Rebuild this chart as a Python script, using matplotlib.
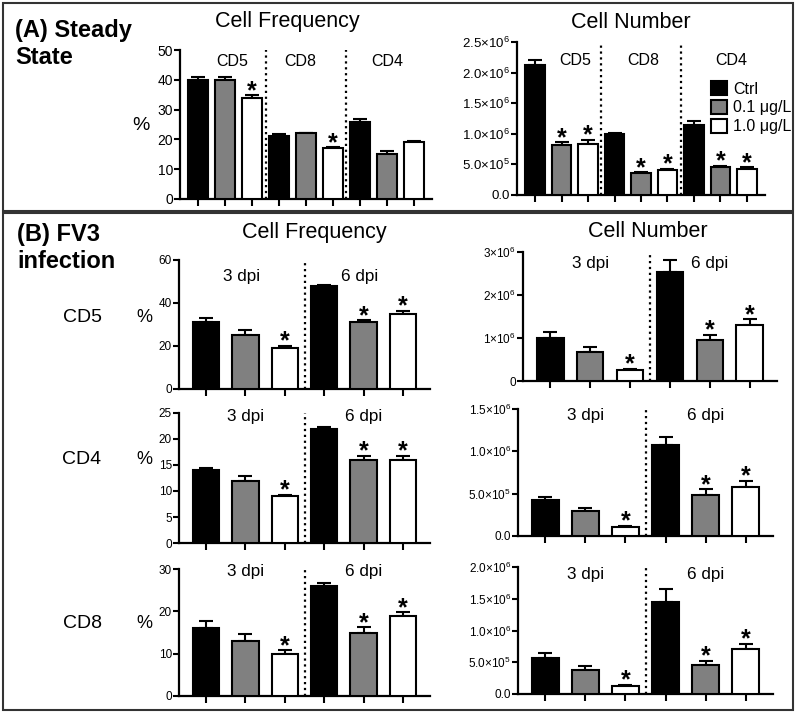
import numpy as np
import matplotlib.pyplot as plt
from matplotlib.patches import Rectangle, Patch

plt.rcParams['font.family'] = 'Liberation Sans'
plt.rcParams['mathtext.fontset'] = 'custom'
plt.rcParams['mathtext.rm'] = 'Liberation Sans'

conds = ['Ctrl', '0.1 μg/L', '1.0 μg/L']
colors = ['black', '#808080', 'white']

# (A) steady state, groups CD5 / CD8 / CD4
groups_a = ['CD5', 'CD8', 'CD4']
freq_a = [[40, 40, 34], [21, 22, 17], [26, 15, 19]]
freq_a_err = [[0.8, 0.8, 0.8], [0.7, 0.3, 0.3], [0.8, 1.2, 0.6]]
freq_a_sig = [[0, 0, 1], [0, 0, 1], [0, 0, 0]]
num_a = [[2.13e6, 0.82e6, 0.83e6], [1.0e6, 0.36e6, 0.41e6], [1.15e6, 0.46e6, 0.42e6]]
num_a_err = [[0.07e6, 0.04e6, 0.07e6], [0.02e6, 0.01e6, 0.02e6], [0.06e6, 0.02e6, 0.03e6]]
num_a_sig = [[0, 1, 1], [0, 1, 1], [0, 1, 1]]

# (B) FV3 infection, 3 dpi / 6 dpi
days = ['3 dpi', '6 dpi']
sig_b = [[0, 0, 1], [0, 1, 1]]
cd5_freq = [[31, 25, 19], [48, 31, 35]]
cd5_freq_err = [[2, 2.5, 1], [0.3, 1, 1.5]]
cd5_num = [[1.0e6, 0.68e6, 0.25e6], [2.53e6, 0.95e6, 1.3e6]]
cd5_num_err = [[0.13e6, 0.1e6, 0.03e6], [0.28e6, 0.12e6, 0.14e6]]
cd4_freq = [[14, 12, 9], [22, 16, 16]]
cd4_freq_err = [[0.4, 0.8, 0.3], [0.3, 0.8, 0.8]]
cd4_num = [[0.42e6, 0.29e6, 0.11e6], [1.08e6, 0.49e6, 0.58e6]]
cd4_num_err = [[0.04e6, 0.04e6, 0.01e6], [0.09e6, 0.06e6, 0.07e6]]
cd8_freq = [[16, 13, 10], [26, 15, 19]]
cd8_freq_err = [[1.6, 1.6, 0.8], [0.8, 1.2, 0.8]]
cd8_num = [[0.57e6, 0.38e6, 0.13e6], [1.45e6, 0.46e6, 0.71e6]]
cd8_num_err = [[0.08e6, 0.06e6, 0.015e6], [0.21e6, 0.06e6, 0.08e6]]

W, H = 800, 714
fig = plt.figure(figsize=(W/100, H/100), dpi=100)


def add_ax(x0, x1, ytop, ybot):
    return fig.add_axes([x0/W, 1-ybot/H, (x1-x0)/W, (ybot-ytop)/H])


def ftext(x, y, s, **kw):
    kw.setdefault('va', 'center')
    fig.text(x/W, 1-y/H, s, **kw)


def bar_panel(ax, means, errs, sigs, labels, width, lab_y, lab_size, ylim, yticks, ylabels,
              tick_size, lab_dx=(0, 0, 0)):
    n = len(means[0])
    for g, (m, e, s) in enumerate(zip(means, errs, sigs)):
        x = g*n + np.arange(n)
        ax.bar(x, m, width=width, color=colors, edgecolor='black', linewidth=1.5, zorder=3)
        ax.errorbar(x, m, yerr=[np.zeros(n), e], fmt='none', ecolor='black',
                    elinewidth=1.5, capsize=5, capthick=1.5, zorder=2)
        for xi, mi, ei, si in zip(x, m, e, s):
            if si:
                ax.annotate('*', (xi, mi+ei), xytext=(0, -2), textcoords='offset points',
                            ha='center', va='baseline', fontsize=18, fontweight='bold')
        ax.text(x.mean() + lab_dx[g], lab_y, labels[g], transform=ax.get_xaxis_transform(),
                ha='center', va='center', fontsize=lab_size)
        if g > 0:
            ax.axvline(g*n - 0.5, color='black', ls=':', lw=1.6)
    nb = n*len(means)
    ax.set_xlim(-0.68, nb - 1 + 0.68)
    ax.set_ylim(*ylim)
    ax.set_xticks(np.arange(nb))
    ax.set_xticklabels([])
    ax.set_yticks(yticks, ylabels)
    ax.tick_params(axis='y', labelsize=tick_size, length=4, width=1.5, pad=1)
    ax.tick_params(axis='x', length=5, width=1.5)
    for sp in ['top', 'right']:
        ax.spines[sp].set_visible(False)
    for sp in ['left', 'bottom']:
        ax.spines[sp].set_linewidth(1.6)


# ---- (A)
ax = add_ax(180, 432, 50, 199)
bar_panel(ax, freq_a, freq_a_err, freq_a_sig, groups_a, 0.75, 0.92, 11.5,
          (0, 50), [0, 10, 20, 30, 40, 50], ['0', '10', '20', '30', '40', '50'], 10,
          lab_dx=(0.25, -0.2, 0))
ax = add_ax(517, 765, 42, 195)
bar_panel(ax, num_a, num_a_err, num_a_sig, groups_a, 0.75, 0.88, 11.5,
          (0, 2.5e6), [0, 0.5e6, 1e6, 1.5e6, 2e6, 2.5e6],
          ['0.0', '5.0×10$^{5}$', '1.0×10$^{6}$', '1.5×10$^{6}$', '2.0×10$^{6}$', '2.5×10$^{6}$'], 9.5,
          lab_dx=(0.5, 0.1, 0.4))
handles = [Patch(facecolor=c, edgecolor='black', linewidth=1.5, label=l) for c, l in zip(colors, conds)]
fig.legend(handles=handles, loc='upper left', bbox_to_anchor=(711/W, 1-81/H), frameon=False,
           fontsize=11.5, handlelength=1.0, handleheight=1.0, handletextpad=0.4,
           labelspacing=0.2, borderpad=0, borderaxespad=0)

# ---- (B)
ax = add_ax(179, 430, 260, 389)
bar_panel(ax, cd5_freq, cd5_freq_err, sig_b, days, 0.67, 0.87, 12.3,
          (0, 60), [0, 20, 40, 60], ['0', '20', '40', '60'], 8.5, lab_dx=(-0.1, -0.1, 0))
ax = add_ax(523, 777, 252, 381)
bar_panel(ax, cd5_num, cd5_num_err, sig_b, days, 0.67, 0.91, 12.3,
          (0, 3e6), [0, 1e6, 2e6, 3e6], ['0', '1×10$^{6}$', '2×10$^{6}$', '3×10$^{6}$'], 8.5)
ax = add_ax(179, 430, 413, 543)
bar_panel(ax, cd4_freq, cd4_freq_err, sig_b, days, 0.67, 0.97, 12.3,
          (0, 25), [0, 5, 10, 15, 20, 25], ['0', '5', '10', '15', '20', '25'], 8.5)
ax = add_ax(518, 773, 409, 536)
bar_panel(ax, cd4_num, cd4_num_err, sig_b, days, 0.67, 0.95, 12.3,
          (0, 1.5e6), [0, 0.5e6, 1e6, 1.5e6],
          ['0.0', '5.0×10$^{5}$', '1.0×10$^{6}$', '1.5×10$^{6}$'], 8.5)
ax = add_ax(179, 430, 569, 696)
bar_panel(ax, cd8_freq, cd8_freq_err, sig_b, days, 0.67, 0.98, 12.3,
          (0, 30), [0, 10, 20, 30], ['0', '10', '20', '30'], 8.5)
ax = add_ax(518, 773, 567, 694)
bar_panel(ax, cd8_num, cd8_num_err, sig_b, days, 0.67, 0.94, 12.3,
          (0, 2e6), [0, 0.5e6, 1e6, 1.5e6, 2e6],
          ['0.0', '5.0×10$^{5}$', '1.0×10$^{6}$', '1.5×10$^{6}$', '2.0×10$^{6}$'], 8.5)

# ---- text
ftext(15, 30, '(A) Steady', fontsize=17, fontweight='bold')
ftext(15, 57, 'State', fontsize=17, fontweight='bold')
ftext(17, 235, '(B) FV3', fontsize=17, fontweight='bold')
ftext(17, 262, 'infection', fontsize=17, fontweight='bold')
ftext(287, 22, 'Cell Frequency', fontsize=15.5, ha='center')
ftext(631, 23, 'Cell Number', fontsize=15.5, ha='center')
ftext(314, 233, 'Cell Frequency', fontsize=15.5, ha='center')
ftext(648, 232, 'Cell Number', fontsize=15.5, ha='center')
ftext(141, 125, '%', fontsize=14, ha='center')
for lab, y in zip(['CD5', 'CD4', 'CD8'], [318, 460, 624]):
    ftext(82, y, lab, fontsize=14, ha='center')
    ftext(144, y, '%', fontsize=13, ha='center')

fig.add_artist(Rectangle((3/W, 1-211/H), 790/W, 208/H, transform=fig.transFigure,
                         fill=False, lw=1.5, edgecolor='#333333'))
fig.add_artist(Rectangle((3/W, 1-710/H), 790/W, 497/H, transform=fig.transFigure,
                         fill=False, lw=1.5, edgecolor='#333333'))

fig.savefig('out.png', dpi=100)
